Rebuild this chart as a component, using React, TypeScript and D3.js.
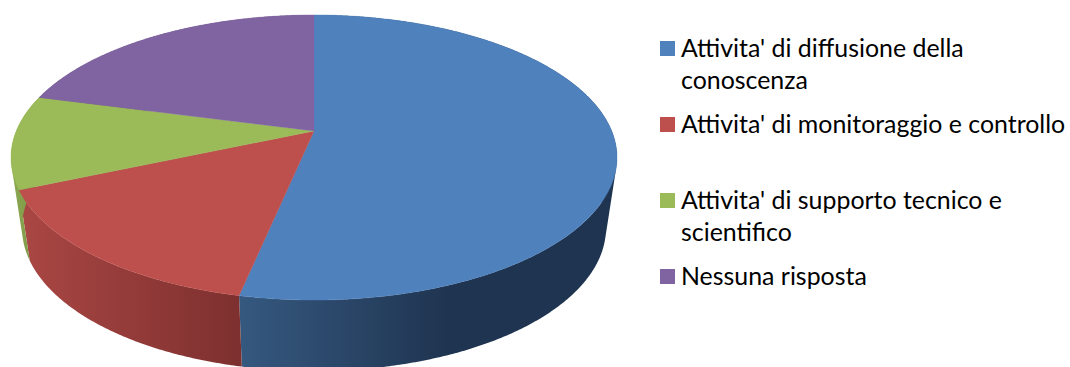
import React from "react";
import * as d3 from "d3";

const categories = [
  "Attivita' di diffusione della conoscenza",
  "Attivita' di monitoraggio e controllo",
  "Attivita' di supporto tecnico e scientifico",
  "Nessuna risposta",
];
const shares = [53.3, 15.2, 10.6, 20.9];
const topColors = ["#4f81bd", "#bd4f4c", "#9bbb59", "#8064a2"];
const rimLight = ["#35587f", "#a84643", "#8aa64f", "#725a91"];
const rimDark = ["#1f3450", "#7d302f", "#7f9a48", "#5f4a78"];
const legendLines = [
  ["Attivita' di diffusione della", "conoscenza"],
  ["Attivita' di monitoraggio e controllo"],
  ["Attivita' di supporto tecnico e", "scientifico"],
  ["Nessuna risposta"],
];
const legendBaselines = [56, 132, 208, 284];

const WIDTH = 1070;
const HEIGHT = 367;
const CX = 314;
const APEX_Y = 131;
// Projective tilt of the disc: the centre of the circle sits above the ellipse centre.
const TILT = 0.186;
const SCALE_Y = 137.6;
const SCALE_X = 297.7;
const TOP_RX = 303;
const TOP_RY = 142.5;
const TOP_CY = 157.5;
const BASE_RX = 292;
const BASE_RY = 143;
const BASE_CY = 228;

type Pt = [number, number];

// Point on the upper rim for a clockwise angle measured from twelve o'clock.
function topPoint(angle: number): Pt {
  const x = Math.sin(angle);
  const s = -Math.cos(angle);
  const w = 1 - TILT * s;
  return [CX + (SCALE_X * x) / w, APEX_Y + (SCALE_Y * s) / w];
}

// The same angle on the smaller lower rim.
function basePoint(angle: number): Pt {
  const [x, y] = topPoint(angle);
  return [
    CX + ((x - CX) / TOP_RX) * BASE_RX,
    BASE_CY + ((y - TOP_CY) / TOP_RY) * BASE_RY,
  ];
}

const STEP = Math.PI / 400;
const line = d3.line<Pt>();

function sampleAngles(a0: number, a1: number): number[] {
  const n = Math.max(2, Math.ceil((a1 - a0) / STEP));
  return d3.range(n + 1).map((i) => a0 + ((a1 - a0) * i) / n);
}

// Side wall of a slice: one path of same-wound quads, so the fold at the
// silhouette leaves no holes and neighbouring strips leave no seams.
function wallPath(a0: number, a1: number): string {
  const angles = sampleAngles(a0, a1);
  return angles
    .slice(1)
    .map((a, k) => {
      const quad: Pt[] = [
        topPoint(angles[k]),
        topPoint(a),
        basePoint(a),
        basePoint(angles[k]),
      ];
      if (d3.polygonArea(quad) < 0) quad.reverse();
      return line(quad) + "Z";
    })
    .join("");
}

export default function App() {
  const arcs = d3.pie<number>().sort(null)(shares);
  const rimDomains: [number, number][] = [
    [242, 450],
    [28, 240],
    [15, 30],
    [15, 40],
  ];
  return (
    <svg
      width={WIDTH}
      height={HEIGHT}
      viewBox={`0 0 ${WIDTH} ${HEIGHT}`}
      style={{ position: "absolute", left: 0, top: 0, background: "#fff" }}
    >
      <defs>
        {arcs.map((_, i) => (
          <linearGradient
            key={i}
            id={`wall-${i}`}
            gradientUnits="userSpaceOnUse"
            x1={rimDomains[i][0]}
            x2={rimDomains[i][1]}
            y1={0}
            y2={0}
          >
            <stop offset="0" stopColor={rimLight[i]} />
            <stop offset="1" stopColor={rimDark[i]} />
          </linearGradient>
        ))}
      </defs>
      <g>
        {arcs.map((arc, i) => (
          <path
            key={i}
            d={wallPath(arc.startAngle, arc.endAngle)}
            fill={`url(#wall-${i})`}
            fillRule="nonzero"
          />
        ))}
      </g>
      <g>
        {arcs.map((arc, i) => {
          const rim = sampleAngles(arc.startAngle, arc.endAngle).map(topPoint);
          const outline: Pt[] = [[CX, APEX_Y], ...rim];
          return (
            <path
              key={i}
              d={line(outline) + "Z"}
              fill={topColors[i]}
              stroke={topColors[i]}
              strokeWidth={0.4}
            />
          );
        })}
      </g>
      <g fontFamily="Lato, 'Open Sans', sans-serif" fontSize={24.9} fill="#000">
        {categories.map((name, i) => (
          <g key={name}>
            <rect x={660} y={legendBaselines[i] - 15} width={15} height={15} fill={topColors[i]} />
            {legendLines[i].map((text, j) => (
              <text key={j} x={681} y={legendBaselines[i] + 1 + j * 32}>
                {text}
              </text>
            ))}
          </g>
        ))}
      </g>
    </svg>
  );
}
